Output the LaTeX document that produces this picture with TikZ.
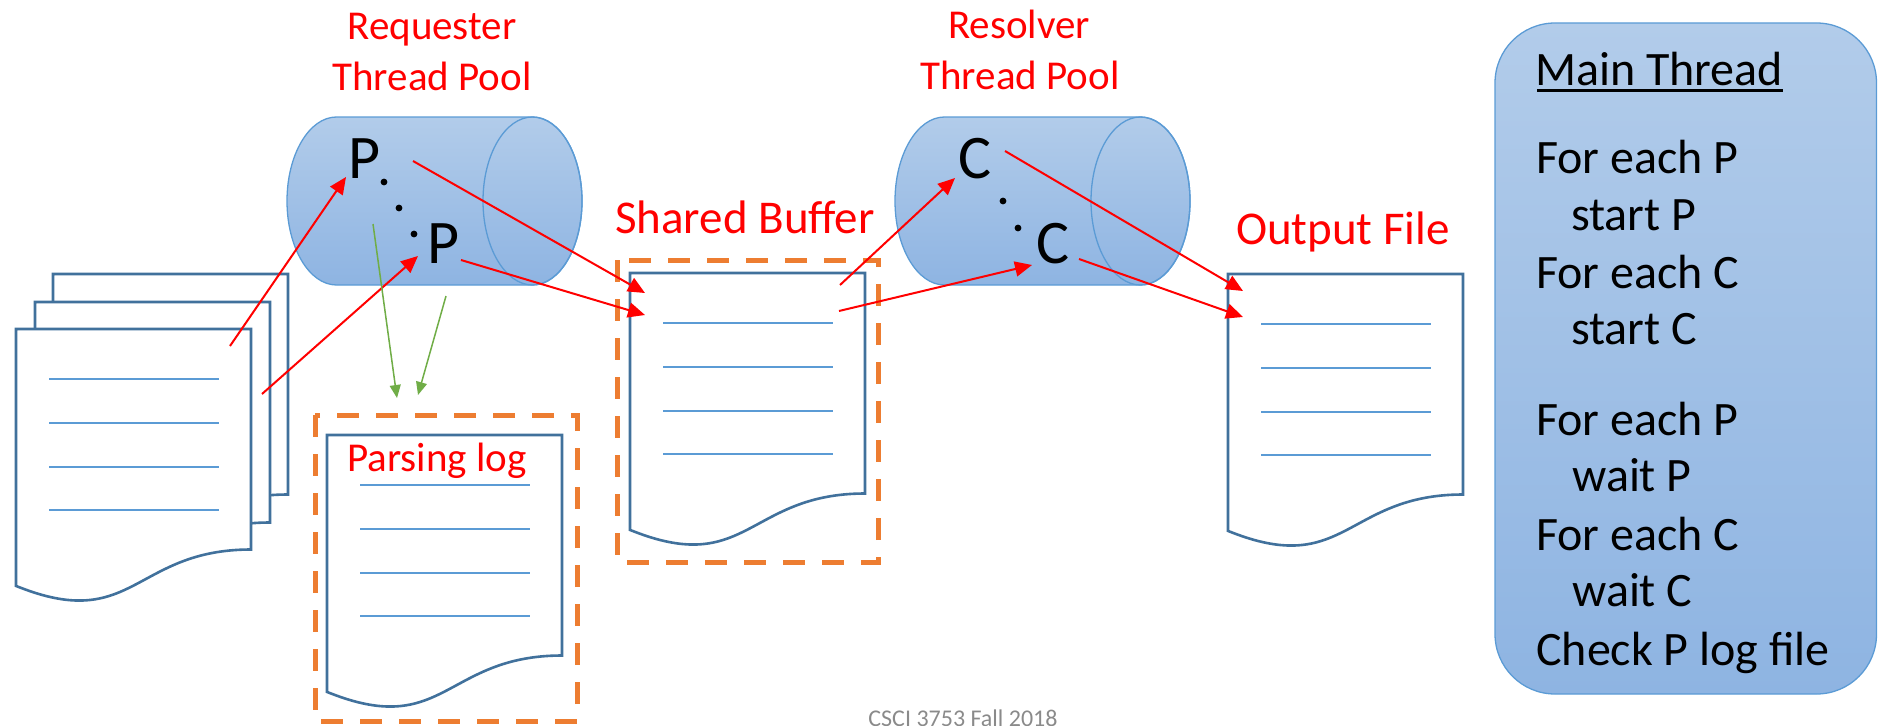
\documentclass[tikz,border=0pt]{standalone}
\usepackage{fontspec}
\setmainfont{Carlito}
\usetikzlibrary{arrows.meta,calc}

\definecolor{docedge}{HTML}{41719C}
\definecolor{ruleblue}{HTML}{5B9BD5}
\definecolor{canedge}{HTML}{5B9BD5}
\definecolor{cantop}{HTML}{B2CCEA}
\definecolor{canbot}{HTML}{8EB4E2}
\definecolor{dashorange}{HTML}{ED7D31}
\definecolor{flowred}{HTML}{FF0000}
\definecolor{loggreen}{HTML}{70AD47}
\definecolor{footgray}{HTML}{8A8A8A}

\newcommand\fsz[1]{\fontsize{#1}{#1}\selectfont}

\tikzset{
  sheetedge/.style={draw=docedge, line width=2.6pt, fill=white, line join=miter},
  sheetrule/.style={draw=ruleblue, line width=1.4pt},
  % a paper sheet with a wavy bottom edge (origin = top-left corner)
  pics/sheet/.style={code={
    \path[sheetedge] (0,0) -- (235,0) -- (235,220.5)
      .. controls (117.5,220.5) and (117.5,304.6) .. (0,256.9) -- cycle;
  }},
  pics/ruledsheet/.style={code={
    \path[sheetedge] (0,0) -- (235,0) -- (235,220.5)
      .. controls (117.5,220.5) and (117.5,304.6) .. (0,256.9) -- cycle;
    \foreach \ry in {50,94,138,181} \draw[sheetrule] (33,\ry) -- (203,\ry);
  }},
  % a horizontal cylinder (origin = top-left of its bounding box)
  pics/pool/.style={code={
    \path[draw=canedge, line width=1.3pt, top color=cantop, bottom color=canbot]
      (49.5,0) -- (245.5,0)
      arc[start angle=-90, end angle=90, x radius=49.5, y radius=84]
      -- (49.5,168)
      arc[start angle=90, end angle=270, x radius=49.5, y radius=84] -- cycle;
    \draw[canedge, line width=1.3pt] (245.5,84) ellipse[x radius=49.5, y radius=84];
  }},
  dashbox/.style={draw=dashorange, line width=5pt, dash pattern=on 22pt off 17pt},
  mainbox/.style={draw=canedge, line width=1.3pt, rounded corners=60pt,
    top color=cantop, bottom color=canbot, inner sep=0pt},
  redlabel/.style={text=flowred, inner sep=0pt, anchor=base},
  threadname/.style={font=\fsz{62}, inner sep=0pt, anchor=base},
  steptext/.style={font=\fsz{48}, inner sep=0pt, anchor=base west},
  flowarrow/.style={draw=flowred, line width=2pt, -{Triangle[length=17pt,width=15pt]}},
  logarrow/.style={draw=loggreen, line width=1.5pt, -{Triangle[length=13pt,width=11pt]}},
  dotmark/.style={fill=black, draw=none},
}

\begin{document}
\begin{tikzpicture}[x=1pt, y=-1pt]
\useasboundingbox (0,0) rectangle (1878,725);
\clip (0,0) rectangle (1878,725);

% dashed frames
\draw[dashbox] (315,415) rectangle (577,721);
\draw[dashbox] (617,260) rectangle (878,562);

% input files (stack)
\pic (inback) at (53,274) {sheet};
\pic (inmid) at (35,302) {sheet};
\pic (infront) at (16,329) {ruledsheet};

% parsing log, shared buffer, output file
\pic (logsheet) at (327,435) {ruledsheet};
\pic (bufsheet) at (630,273) {ruledsheet};
\pic (outsheet) at (1228,274) {ruledsheet};

% thread pools
\pic (reqpool) at (287,117) {pool};
\pic (respool) at (895,117) {pool};

% main thread box
\node[mainbox, minimum width=381.5pt, minimum height=671pt] (main) at (1685.75,358.5) {};

% labels
\node[redlabel, font=\fsz{41}] (rq1) at (432,40) {Requester};
\node[redlabel, font=\fsz{41}] (rq2) at (432,90) {Thread Pool};
\node[redlabel, font=\fsz{41}] (rs1) at (1019,38) {Resolver};
\node[redlabel, font=\fsz{41}] (rs2) at (1020,89) {Thread Pool};
\node[redlabel, font=\fsz{47}] (sb) at (745,233) {Shared Buffer};
\node[redlabel, font=\fsz{47}] (of) at (1343,244) {Output File};
\node[redlabel, font=\fsz{41}] (pl) at (437,471) {Parsing log};

% threads inside the pools
\node[threadname] (p1) at (365,178) {P};
\node[threadname] (p2) at (444,263) {P};
\node[threadname] (c1) at (975,178) {C};
\node[threadname] (c2) at (1053,263) {C};
\fill[dotmark] (384,182) circle[radius=3.4];
\fill[dotmark] (399,208) circle[radius=3.4];
\fill[dotmark] (414,234) circle[radius=3.4];
\fill[dotmark] (1003,201) circle[radius=3.4];
\fill[dotmark] (1018,228) circle[radius=3.4];

% main thread steps
\node[steptext] (mt) at (1535,85.5) {Main Thread};
\draw[line width=3pt] ($(mt.base west)+(2,4.5)$) -- ($(mt.base east)+(0,4.5)$);
\node[steptext] (s1) at (1536,173) {For each P};
\node[steptext] (s2) at (1571,230) {start P};
\node[steptext] (s3) at (1536,288) {For each C};
\node[steptext] (s4) at (1571,344) {start C};
\node[steptext] (s5) at (1536,435) {For each P};
\node[steptext] (s6) at (1572,491) {wait P};
\node[steptext] (s7) at (1536,550) {For each C};
\node[steptext] (s8) at (1572,606) {wait C};
\node[steptext] (s9) at (1536,665) {Check P log file};

% footer, running off the bottom edge
\node[inner sep=0pt, anchor=base, text=footgray, font=\fsz{24}] (foot) at (963,726.5) {CSCI 3753 Fall 2018};

% connector end points
\coordinate (fromIn1) at (230,346);
\coordinate (fromIn2) at (262,394);
\coordinate (toP1) at (346,177);
\coordinate (toP2) at (418,256);
\coordinate (fromP1) at (413,161);
\coordinate (fromP2) at (461,260);
\coordinate (toBuf1) at (645,293);
\coordinate (toBuf2) at (645,315);
\coordinate (fromBuf1) at (840,285);
\coordinate (fromBuf2) at (839,311);
\coordinate (toC1) at (955,178);
\coordinate (toC2) at (1032,265);
\coordinate (fromC1) at (1005,151);
\coordinate (fromC2) at (1079,259);
\coordinate (toOut1) at (1243,291);
\coordinate (toOut2) at (1243,317);
\coordinate (logFromA) at (373,224);
\coordinate (logFromB) at (446,296);
\coordinate (toLogA) at (397,398);
\coordinate (toLogB) at (418,395);

% data flow
\draw[flowarrow] (fromIn1) -- (toP1);
\draw[flowarrow] (fromIn2) -- (toP2);
\draw[flowarrow] (fromP1) -- (toBuf1);
\draw[flowarrow] (fromP2) -- (toBuf2);
\draw[flowarrow] (fromBuf1) -- (toC1);
\draw[flowarrow] (fromBuf2) -- (toC2);
\draw[flowarrow] (fromC1) -- (toOut1);
\draw[flowarrow] (fromC2) -- (toOut2);
\draw[logarrow] (logFromA) -- (toLogA);
\draw[logarrow] (logFromB) -- (toLogB);
\end{tikzpicture}
\end{document}
